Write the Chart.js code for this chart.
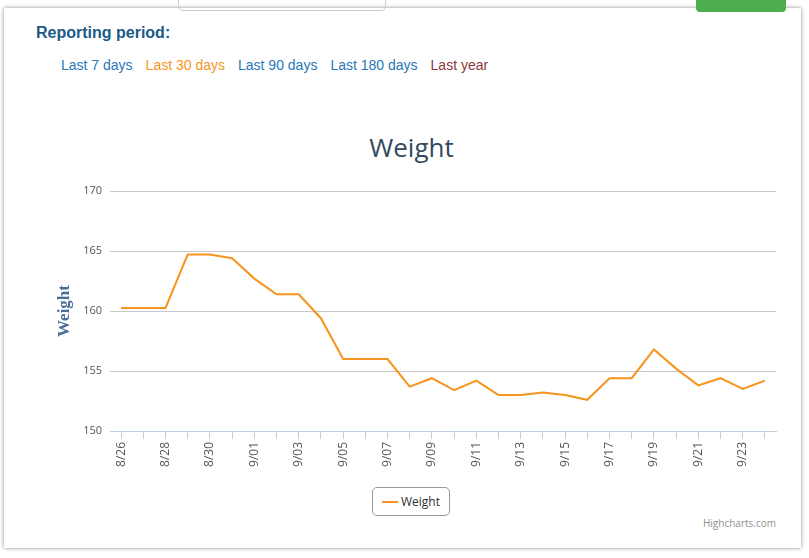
<!DOCTYPE html>
<html><head><meta charset="utf-8">
<script src="https://cdn.jsdelivr.net/npm/chart.js@4"></script>
<style>
body{margin:0;width:809px;height:558px;background:#fff;font-family:"Open Sans",Arial,sans-serif;position:relative;overflow:hidden}
#frame{position:absolute;left:4px;top:8px;width:797px;height:540px;box-shadow:0 0 4px rgba(0,0,0,.45);background:#fff}
#rp{position:absolute;left:36px;top:24px;font:bold 16px Arial,sans-serif;color:#1a5a8a}
#links{position:absolute;left:61px;top:57px;font:14px Arial,sans-serif;color:#2a77b8}
#links span{margin-right:13px}
#title{position:absolute;left:0;width:823px;text-align:center;top:129px;font-size:26px;color:#34495e}
#leg{position:absolute;left:372px;top:487px;width:76px;height:27px;border:1px solid #999;border-radius:5px;font-size:12px;color:#333;line-height:27px}
#leg i{position:absolute;left:9px;top:13px;width:16px;height:2px;background:#f7941d}
#leg b{font-weight:normal;position:absolute;left:28px}
#cr{position:absolute;right:33px;top:516px;font-size:10px;color:#909090}
#topbar{position:absolute;left:178px;top:0;width:206px;height:10px;border:1px solid #ccc;border-top:none;border-radius:0 0 5px 5px}
#green{position:absolute;left:696px;top:0;width:90px;height:12px;background:#4cae4c;border-radius:0 0 4px 4px}
canvas{position:absolute;left:0;top:0}
</style></head><body>
<div id="frame"></div><div id="topbar"></div><div id="green"></div>
<div id="rp">Reporting period:</div>
<div id="links"><span>Last 7 days</span><span style="color:#f7941d">Last 30 days</span><span>Last 90 days</span><span>Last 180 days</span><span style="color:#8b3a3a">Last year</span></div>
<div id="title">Weight</div>
<div id="leg"><i></i><b>Weight</b></div>
<div id="cr">Highcharts.com</div>
<canvas id="c" width="809" height="558"></canvas>
<script>
const categories=["8/26","8/27","8/28","8/29","8/30","8/31","9/01","9/02","9/03","9/04","9/05","9/06","9/07","9/08","9/09","9/10","9/11","9/12","9/13","9/14","9/15","9/16","9/17","9/18","9/19","9/20","9/21","9/22","9/23","9/24"];
const weight=[160.25,160.25,160.25,164.7,164.7,164.4,162.7,161.4,161.4,159.4,156,156,156,153.7,154.4,153.4,154.2,153,153,153.2,153,152.6,154.4,154.4,156.8,155.2,153.8,154.4,153.5,154.2];
const yTicks=[150,155,160,165,170];
new Chart(document.getElementById('c'),{type:'line',
data:{labels:categories,datasets:[{label:'Weight',data:weight,borderColor:'#f7941d',borderWidth:2,pointRadius:0,tension:0,fill:false}]},
options:{responsive:false,animation:false,
layout:{padding:{left:50,right:33,top:191,bottom:0}},
plugins:{legend:{display:false},tooltip:{enabled:false}},
scales:{
x:{offset:true,afterFit:s=>{s.height=127},
grid:{drawOnChartArea:false,color:'#c0d0e0',tickLength:8},border:{color:'#c0d0e0'},
ticks:{autoSkip:false,maxRotation:90,minRotation:90,color:'#555',font:{family:'Open Sans',size:12},callback:(v,i)=>i%2===0?categories[i]:''}},
y:{min:150,max:170,afterFit:s=>{s.width=60},afterBuildTicks:s=>{s.ticks=yTicks.map(v=>({value:v}))},
grid:{color:'#c8c8c8',drawTicks:false},border:{display:false},
ticks:{padding:8,color:'#555',font:{family:'Open Sans',size:11}},
title:{display:true,text:'Weight',color:'#4a6e96',font:{family:'Liberation Serif',size:17,weight:'bold'}}}
}}});
</script></body></html>
